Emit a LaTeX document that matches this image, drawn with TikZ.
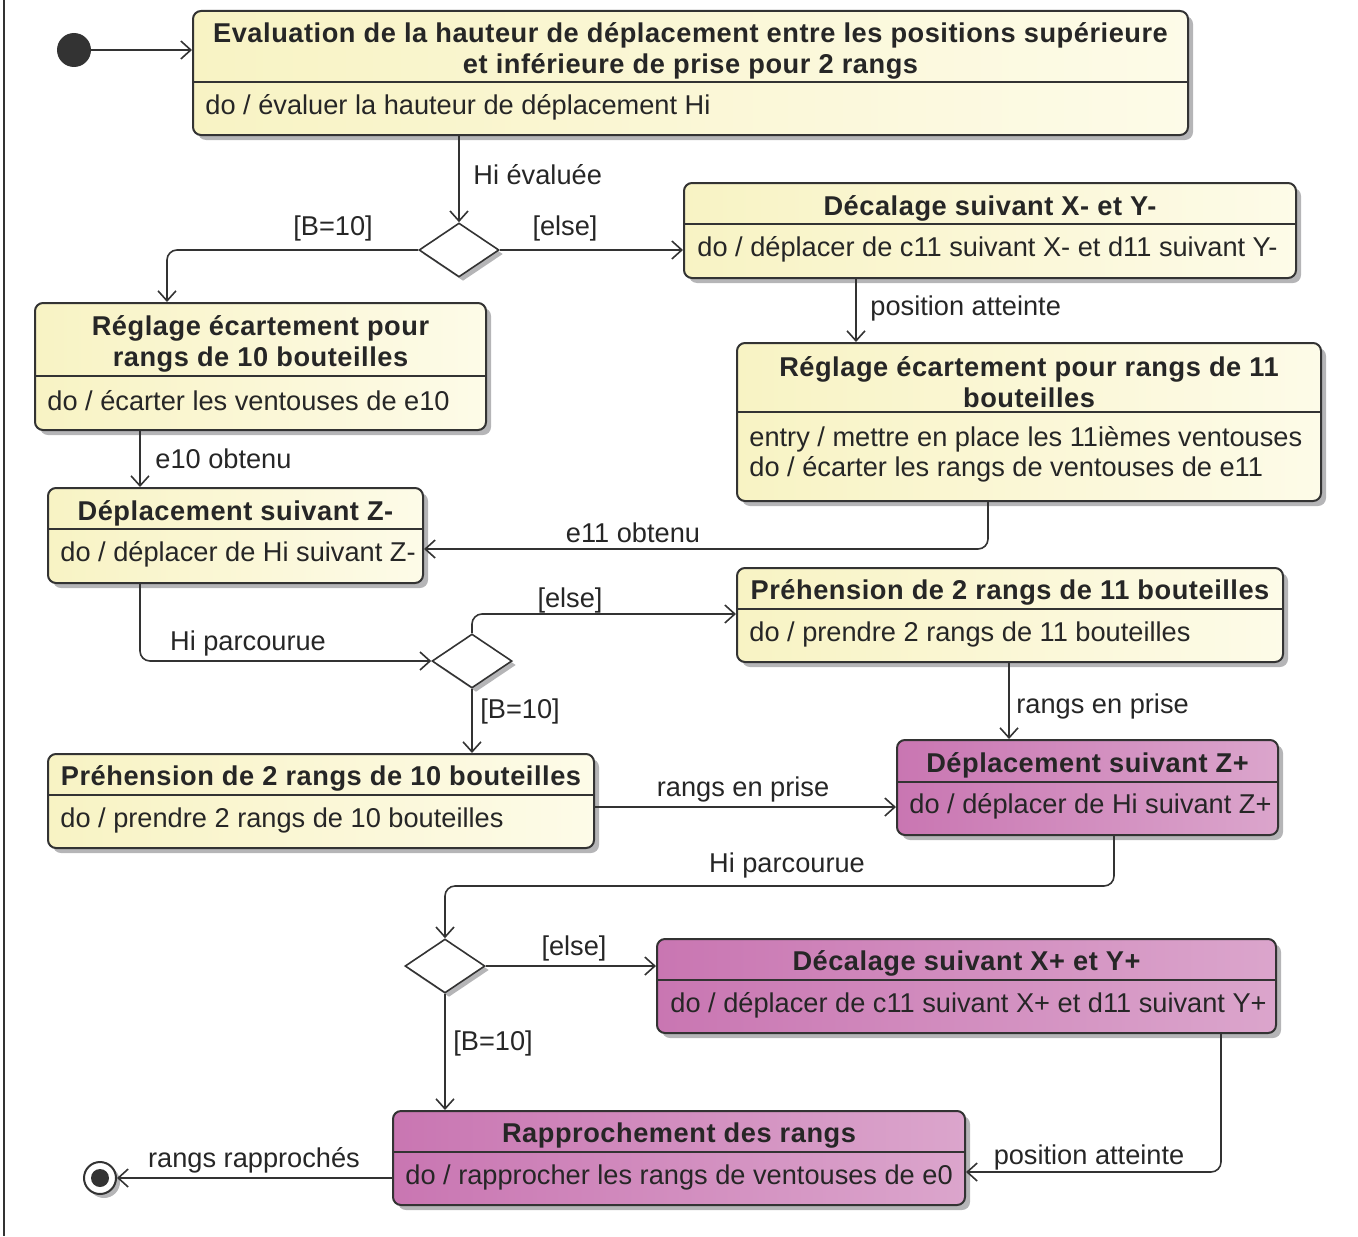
\documentclass[tikz,border=0pt]{standalone}
\usepackage{fontspec}
\setmainfont{Liberation Sans}
\newfontfamily\titrefont[LetterSpace=2]{Liberation Sans}
\usetikzlibrary{arrows.meta, shapes.geometric, shadows, fit, calc}

\definecolor{trait}{HTML}{333333}
\definecolor{jauneA}{HTML}{F8F3C4}
\definecolor{jauneB}{HTML}{FDFBE8}
\definecolor{mauveA}{HTML}{C976B2}
\definecolor{mauveB}{HTML}{DBA5CC}
\definecolor{ombre}{HTML}{B5B5B7}

\tikzset{
  etat/.style={draw=trait, line width=1pt, rounded corners=4pt, inner sep=0pt,
    drop shadow={shadow xshift=2.5pt, shadow yshift=-2.5pt, fill=ombre, opacity=1}},
  jaune/.style={left color=jauneA, right color=jauneB},
  mauve/.style={left color=mauveA, right color=mauveB},
  titre/.style={font=\titrefont\bfseries\fontsize{13.6}{15.5}\selectfont, align=center, inner sep=0pt, yshift=-1pt, text=black!85},
  corps/.style={anchor=west, font=\fontsize{13.6}{15}\selectfont, align=left, inner sep=0pt, yshift=-1pt, text=black!85},
  garde/.style={font=\fontsize{13.6}{15.5}\selectfont, inner sep=0pt, yshift=-1pt, text=black!85},
  lien/.style={draw=trait, line width=0.8pt, rounded corners=5pt, -{Straight Barb[length=5pt,width=9pt]}},
  choix/.style={diamond, draw=trait, line width=0.8pt, fill=white, inner sep=0pt,
    minimum width=40pt, minimum height=27pt,
    drop shadow={shadow xshift=2pt, shadow yshift=-2pt, fill=ombre, opacity=1}},
  sep/.style={draw=trait, line width=1pt},
}

\begin{document}
\begin{tikzpicture}[x=0.5pt, y=-0.5pt]
    \useasboundingbox (0,0) rectangle (1358,1236);
    % cadre
    \draw[trait, line width=1pt] (4,0) -- (4,1236);

    % Etats
    \node[etat, jaune, fit={(193,11) (1188,135)}] (eval) {};
    \draw[sep] ($(eval.north west)+(0,72)$) -- ($(eval.north east)+(0,72)$);
    \node[titre] (eval-t) at (690.5,48.5) {Evaluation de la hauteur de déplacement entre les positions supérieure\\et inférieure de prise pour 2 rangs};
    \node[corps] (eval-c) at (205,105) {do / évaluer la hauteur de déplacement Hi};

    \node[etat, jaune, fit={(684,183) (1296,278)}] (decm) {};
    \draw[sep] ($(decm.north west)+(0,42)$) -- ($(decm.north east)+(0,42)$);
    \node[titre] (decm-t) at (990,206) {Décalage suivant X- et Y-};
    \node[corps] (decm-c) at (697,247) {do / déplacer de c11 suivant X- et d11 suivant Y-};

    \node[etat, jaune, fit={(35,303) (486,430)}] (reg10) {};
    \draw[sep] ($(reg10.north west)+(0,74)$) -- ($(reg10.north east)+(0,74)$);
    \node[titre] (reg10-t) at (260.5,341.5) {Réglage écartement pour\\rangs de 10 bouteilles};
    \node[corps] (reg10-c) at (47,399) {do / écarter les ventouses de e10};

    \node[etat, jaune, fit={(737,343) (1321,501)}] (reg11) {};
    \draw[sep] ($(reg11.north west)+(0,70)$) -- ($(reg11.north east)+(0,70)$);
    \node[titre] (reg11-t) at (1029,380) {Réglage écartement pour rangs de 11\\bouteilles};
    \node[corps] (reg11-c) at (749,452) {entry / mettre en place les 11ièmes ventouses\\do / écarter les rangs de ventouses de e11};

    \node[etat, jaune, fit={(48,488) (423,583)}] (zmoins) {};
    \draw[sep] ($(zmoins.north west)+(0,42)$) -- ($(zmoins.north east)+(0,42)$);
    \node[titre] (zmoins-t) at (235.5,511) {Déplacement suivant Z-};
    \node[corps] (zmoins-c) at (60,552) {do / déplacer de Hi suivant Z-};

    \node[etat, jaune, fit={(737,568) (1283,662)}] (preh11) {};
    \draw[sep] ($(preh11.north west)+(0,42)$) -- ($(preh11.north east)+(0,42)$);
    \node[titre] (preh11-t) at (1010,590) {Préhension de 2 rangs de 11 bouteilles};
    \node[corps] (preh11-c) at (749,632) {do / prendre 2 rangs de 11 bouteilles};

    \node[etat, jaune, fit={(48,754) (594,848)}] (preh10) {};
    \draw[sep] ($(preh10.north west)+(0,42)$) -- ($(preh10.north east)+(0,42)$);
    \node[titre] (preh10-t) at (321,776) {Préhension de 2 rangs de 10 bouteilles};
    \node[corps] (preh10-c) at (60,818) {do / prendre 2 rangs de 10 bouteilles};

    \node[etat, mauve, fit={(897,740) (1278,835)}] (zplus) {};
    \draw[sep] ($(zplus.north west)+(0,43)$) -- ($(zplus.north east)+(0,43)$);
    \node[titre] (zplus-t) at (1087.5,763) {Déplacement suivant Z+};
    \node[corps] (zplus-c) at (909,804) {do / déplacer de Hi suivant Z+};

    \node[etat, mauve, fit={(657,939) (1276,1033)}] (decp) {};
    \draw[sep] ($(decp.north west)+(0,42)$) -- ($(decp.north east)+(0,42)$);
    \node[titre] (decp-t) at (966.5,961) {Décalage suivant X+ et Y+};
    \node[corps] (decp-c) at (670,1003) {do / déplacer de c11 suivant X+ et d11 suivant Y+};

    \node[etat, mauve, fit={(393,1111) (965,1205)}] (rapp) {};
    \draw[sep] ($(rapp.north west)+(0,42)$) -- ($(rapp.north east)+(0,42)$);
    \node[titre] (rapp-t) at (679,1134) {Rapprochement des rangs};
    \node[corps] (rapp-c) at (405,1175) {do / rapprocher les rangs de ventouses de e0};

    % Pseudo-etats
    \node[circle, fill=trait, minimum size=17pt, inner sep=0pt] (init) at (74,50) {};
    \node[circle, draw=trait, line width=1pt, fill=white, minimum size=16pt, inner sep=0pt,
      drop shadow={shadow xshift=2pt, shadow yshift=-2pt, fill=ombre, opacity=1}] (fin) at (100,1178) {};
    \node[circle, fill=trait, minimum size=9pt, inner sep=0pt] (fin-c) at (fin) {};
    \node[choix] (d1) at (459,250) {};
    \node[choix] (d2) at (472,661) {};
    \node[choix] (d3) at (445,966) {};

    % Transitions
    \draw[lien] (init) -- (init -| eval.west);
    \draw[lien] (d1.north |- eval.south) -- (d1.north);
    \draw[lien] (d1.west) -| ($(reg10.north west)+(133,0)$);
    \draw[lien] (d1.east) -- (d1.east -| decm.west);
    \draw[lien] ($(decm.south west)+(173,0)$) -- ($(reg11.north west)+(120,0)$);
    \draw[lien] ($(reg10.south west)+(106,0)$) -- ($(zmoins.north west)+(93,0)$);
    \draw[lien] ($(reg11.south west)+(252,0)$) |- ($(zmoins.south east)+(0,-35)$);
    \draw[lien] ($(zmoins.south west)+(93,0)$) |- (d2.west);
    \draw[lien] (d2.north) |- ($(preh11.north west)+(0,47)$);
    \draw[lien] (d2.south) -- (d2.south |- preh10.north);
    \draw[lien] ($(preh11.south west)+(273,0)$) -- ($(zplus.north west)+(113,0)$);
    \draw[lien] ($(preh10.south east)+(0,-42)$) -- ($(zplus.south west)+(0,-29)$);
    \draw[lien] ($(zplus.south west)+(218,0)$) -- ++(0,50) -| (d3.north);
    \draw[lien] (d3.east) -- (d3.east -| decp.west);
    \draw[lien] (d3.south) -- (d3.south |- rapp.north);
    \draw[lien] ($(decp.south west)+(565,0)$) |- ($(rapp.south east)+(0,-34)$);
    \draw[lien] (fin -| rapp.west) -- (fin);

    % Gardes et evenements
    \node[garde, anchor=west] (l-hi) at (473,173) {Hi évaluée};
    \node[garde] (l-b1) at (333,226) {[B=10]};
    \node[garde] (l-e1) at (565,226) {[else]};
    \node[garde, anchor=west] (l-pos1) at (870,306) {position atteinte};
    \node[garde, anchor=west] (l-e10) at (155,457) {e10 obtenu};
    \node[garde] (l-e11) at (633,531) {e11 obtenu};
    \node[garde] (l-hp1) at (248,641) {Hi parcourue};
    \node[garde] (l-e2) at (570,598) {[else]};
    \node[garde, anchor=west] (l-b2) at (480,709) {[B=10]};
    \node[garde, anchor=west] (l-rp1) at (1016,704) {rangs en prise};
    \node[garde] (l-rp2) at (743,787) {rangs en prise};
    \node[garde] (l-hp2) at (787,863) {Hi parcourue};
    \node[garde] (l-e3) at (574,946) {[else]};
    \node[garde, anchor=west] (l-b3) at (453,1041) {[B=10]};
    \node[garde] (l-pos2) at (1089,1155) {position atteinte};
    \node[garde] (l-rr) at (254,1158) {rangs rapprochés};
\end{tikzpicture}
\end{document}
